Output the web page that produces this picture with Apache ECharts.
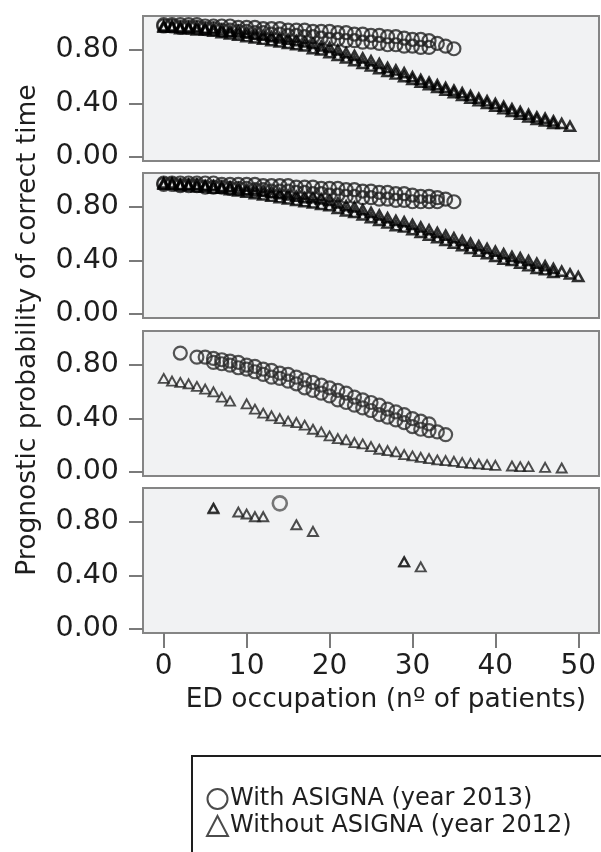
<!DOCTYPE html>
<html>
<head>
<meta charset="utf-8">
<script src="https://cdn.jsdelivr.net/npm/echarts@6/dist/echarts.min.js"></script>
<style>
  html, body { margin: 0; padding: 0; background: #fff; }
  #chart { width: 601px; height: 852px; }
</style>
</head>
<body>
<div id="chart"></div>
<script>
// tick labels
const xTicks = [0, 10, 20, 30, 40, 50];
const yTicks = [0, 0.4, 0.8];

// panel 1 (values indexed by ED occupation, starting at 0)
const p1CircleUpper = [0.99, 0.99, 0.99, 0.99, 0.99, 0.98, 0.98, 0.98, 0.98, 0.97, 0.97, 0.97, 0.96, 0.96, 0.96, 0.95, 0.95, 0.95, 0.94, 0.94, 0.94, 0.93, 0.93, 0.92, 0.92, 0.91, 0.91, 0.90, 0.90, 0.89, 0.88, 0.88, 0.87, 0.85, 0.83, 0.81];
const p1CircleLower = [0.98, 0.98, 0.97, 0.97, 0.97, 0.96, 0.96, 0.95, 0.95, 0.94, 0.94, 0.93, 0.93, 0.92, 0.92, 0.91, 0.91, 0.90, 0.90, 0.89, 0.88, 0.88, 0.87, 0.87, 0.86, 0.86, 0.85, 0.84, 0.84, 0.83, 0.83, 0.82, 0.82];
const p1TriUpper = [0.98, 0.98, 0.97, 0.97, 0.97, 0.96, 0.96, 0.95, 0.94, 0.94, 0.93, 0.92, 0.91, 0.90, 0.89, 0.88, 0.87, 0.86, 0.85, 0.83, 0.82, 0.80, 0.78, 0.76, 0.74, 0.72, 0.70, 0.67, 0.65, 0.63, 0.60, 0.58, 0.56, 0.54, 0.52, 0.50, 0.48, 0.46, 0.44, 0.42, 0.40, 0.38, 0.36, 0.34, 0.32, 0.30, 0.29, 0.27, 0.25, 0.23];
const p1TriLower = [0.97, 0.97, 0.96, 0.96, 0.95, 0.95, 0.94, 0.93, 0.92, 0.91, 0.90, 0.89, 0.88, 0.87, 0.86, 0.85, 0.84, 0.83, 0.81, 0.80, 0.78, 0.76, 0.74, 0.72, 0.70, 0.68, 0.66, 0.64, 0.62, 0.60, 0.58, 0.56, 0.54, 0.52, 0.50, 0.48, 0.46, 0.44, 0.42, 0.40, 0.38, 0.36, 0.34, 0.32, 0.30, 0.28, 0.27, 0.25];

// panel 2
const p2CircleUpper = [0.98, 0.98, 0.98, 0.98, 0.98, 0.98, 0.98, 0.97, 0.97, 0.97, 0.97, 0.97, 0.96, 0.96, 0.96, 0.96, 0.95, 0.95, 0.95, 0.94, 0.94, 0.94, 0.93, 0.93, 0.92, 0.92, 0.91, 0.91, 0.90, 0.90, 0.89, 0.88, 0.88, 0.87, 0.86, 0.84];
const p2CircleLower = [0.97, 0.97, 0.96, 0.96, 0.96, 0.95, 0.95, 0.95, 0.94, 0.94, 0.94, 0.93, 0.93, 0.92, 0.92, 0.92, 0.91, 0.91, 0.90, 0.90, 0.89, 0.89, 0.88, 0.88, 0.87, 0.87, 0.86, 0.86, 0.85, 0.85, 0.84, 0.84, 0.84, 0.84];
const p2TriUpper = [0.98, 0.98, 0.97, 0.97, 0.97, 0.96, 0.96, 0.95, 0.95, 0.94, 0.93, 0.93, 0.92, 0.91, 0.90, 0.89, 0.88, 0.87, 0.87, 0.86, 0.85, 0.83, 0.81, 0.80, 0.78, 0.76, 0.74, 0.72, 0.70, 0.69, 0.67, 0.65, 0.63, 0.61, 0.59, 0.57, 0.55, 0.53, 0.51, 0.49, 0.47, 0.45, 0.43, 0.42, 0.40, 0.38, 0.36, 0.34, 0.32, 0.30, 0.28];
const p2TriLower = [0.97, 0.97, 0.96, 0.96, 0.95, 0.95, 0.94, 0.94, 0.93, 0.92, 0.91, 0.90, 0.89, 0.88, 0.87, 0.86, 0.85, 0.84, 0.83, 0.82, 0.81, 0.79, 0.77, 0.76, 0.74, 0.72, 0.70, 0.68, 0.66, 0.65, 0.63, 0.61, 0.59, 0.57, 0.55, 0.53, 0.51, 0.49, 0.47, 0.45, 0.43, 0.41, 0.40, 0.38, 0.36, 0.34, 0.33, 0.31];

// panel 3 ([occupation, probability])
const p3Circles = [[2, 0.89], [4, 0.86], [34, 0.28],
  [5, 0.86], [6, 0.85], [7, 0.84], [8, 0.83], [9, 0.82], [10, 0.80], [11, 0.79], [12, 0.77], [13, 0.76], [14, 0.74], [15, 0.73], [16, 0.71], [17, 0.69], [18, 0.67], [19, 0.65], [20, 0.63], [21, 0.61], [22, 0.59], [23, 0.56], [24, 0.54], [25, 0.52], [26, 0.50], [27, 0.47], [28, 0.45], [29, 0.43], [30, 0.40], [31, 0.38], [32, 0.36],
  [6, 0.82], [7, 0.81], [8, 0.80], [9, 0.78], [10, 0.77], [11, 0.75], [12, 0.73], [13, 0.71], [14, 0.70], [15, 0.68], [16, 0.66], [17, 0.63], [18, 0.61], [19, 0.59], [20, 0.57], [21, 0.54], [22, 0.52], [23, 0.50], [24, 0.48], [25, 0.46], [26, 0.43], [27, 0.41], [28, 0.39], [29, 0.37], [30, 0.34], [31, 0.32], [32, 0.31], [33, 0.30]];
const p3Triangles = [[0, 0.70], [1, 0.68], [2, 0.67], [3, 0.66], [4, 0.64], [5, 0.62], [6, 0.60], [7, 0.56], [8, 0.53],
  [10, 0.51], [11, 0.47], [12, 0.44], [13, 0.42], [14, 0.40], [15, 0.38], [16, 0.37], [17, 0.35], [18, 0.32], [19, 0.30], [20, 0.27],
  [21, 0.25], [22, 0.24], [23, 0.22], [24, 0.21], [25, 0.19], [26, 0.17], [27, 0.16], [28, 0.15], [29, 0.13], [30, 0.12],
  [31, 0.11], [32, 0.10], [33, 0.09], [34, 0.085], [35, 0.08], [36, 0.07], [37, 0.065], [38, 0.06], [39, 0.055], [40, 0.05],
  [42, 0.045], [43, 0.04], [44, 0.04], [46, 0.035], [48, 0.03]];

// panel 4
const p4Circles = [[14, 0.94]];
const p4Triangles = [[6, 0.90], [6, 0.905], [9, 0.875], [10, 0.86], [11, 0.84], [12, 0.84], [16, 0.78], [18, 0.73], [29, 0.50], [29, 0.505], [31, 0.465]];

const withName = 'With ASIGNA (year 2013)';
const withoutName = 'Without ASIGNA (year 2012)';

const font = 'DejaVu Sans';
const panelTops = [16, 173, 331, 488];

const byIndex = arr => arr.map((v, i) => [i, v]);

// marker look per panel: the two upper panels are very dense and print almost black
const panels = [
  {
    circles: byIndex(p1CircleUpper).concat(byIndex(p1CircleLower)),
    triangles: byIndex(p1TriUpper).concat(byIndex(p1TriLower)),
    circle: { borderColor: '#222', borderWidth: 2.2 }, circleSize: 13,
    tri: { borderColor: '#000', borderWidth: 2.6 }
  },
  {
    circles: byIndex(p2CircleUpper).concat(byIndex(p2CircleLower)),
    triangles: byIndex(p2TriUpper).concat(byIndex(p2TriLower)),
    circle: { borderColor: '#222', borderWidth: 2.2 }, circleSize: 13,
    tri: { borderColor: '#000', borderWidth: 2.6 }
  },
  {
    circles: p3Circles, triangles: p3Triangles,
    circle: { borderColor: '#2a2a2a', borderWidth: 2.2 }, circleSize: 13,
    tri: { borderColor: '#222', borderWidth: 1.9 }
  },
  {
    circles: p4Circles, triangles: p4Triangles,
    circle: { borderColor: '#555', borderWidth: 2.6 }, circleSize: 14,
    tri: { borderColor: '#222', borderWidth: 2 }
  }
];

const grid = panelTops.map(top => ({
  left: 143,
  width: 456,
  top: top,
  height: 145,
  show: true,
  backgroundColor: '#f1f2f3',
  borderColor: '#858585',
  borderWidth: 2
}));

const xAxis = panelTops.map((t, i) => {
  const last = i === panelTops.length - 1;
  return {
    type: 'value',
    gridIndex: i,
    min: -2.5,
    max: 52.5,
    splitLine: { show: false },
    axisLine: { show: false, onZero: false },
    axisTick: {
      show: last,
      customValues: xTicks,
      length: 15,
      lineStyle: { color: '#7a7a7a', width: 2 }
    },
    axisLabel: {
      show: last,
      customValues: xTicks,
      margin: 20,
      fontFamily: font,
      fontSize: 28,
      color: '#1e1e1e'
    },
    name: last ? 'ED occupation (nº of patients)' : '',
    nameLocation: 'middle',
    nameGap: 54,
    nameTextStyle: { fontFamily: font, fontSize: 26.5, color: '#1e1e1e', padding: [0, 0, 0, 30] }
  };
});

const yAxis = panelTops.map((t, i) => ({
  type: 'value',
  gridIndex: i,
  min: -0.03,
  max: 1.055,
  splitLine: { show: false },
  axisLine: { show: false, onZero: false },
  axisTick: {
    show: true,
    customValues: yTicks,
    length: 14,
    lineStyle: { color: '#7a7a7a', width: 2 }
  },
  axisLabel: {
    customValues: yTicks,
    margin: 24,
    fontFamily: font,
    fontSize: 28.5,
    color: '#1e1e1e',
    formatter: v => v.toFixed(2)
  }
}));

const series = [];
panels.forEach((p, i) => {
  series.push({
    name: withName,
    type: 'scatter',
    xAxisIndex: i,
    yAxisIndex: i,
    symbol: 'circle',
    symbolSize: p.circleSize,
    itemStyle: Object.assign({ color: 'transparent' }, p.circle),
    data: p.circles
  });
  series.push({
    name: withoutName,
    type: 'scatter',
    xAxisIndex: i,
    yAxisIndex: i,
    symbol: 'triangle',
    symbolSize: [10, 9],
    itemStyle: Object.assign({ color: 'transparent' }, p.tri),
    data: p.triangles
  });
});

const chart = echarts.init(document.getElementById('chart'));
chart.setOption({
  animation: false,
  backgroundColor: '#fff',
  grid: grid,
  xAxis: xAxis,
  yAxis: yAxis,
  legend: {
    orient: 'vertical',
    left: 201,
    top: 782,
    itemWidth: 21,
    itemHeight: 20,
    itemGap: 3,
    selectedMode: false,
    textStyle: { fontFamily: font, fontSize: 24, color: '#1e1e1e', padding: [0, 0, 0, -3] },
    data: [
      { name: withName, icon: 'circle', itemStyle: { color: 'transparent', borderColor: '#1e1e1e', borderWidth: 2 } },
      { name: withoutName, icon: 'triangle', itemStyle: { color: 'transparent', borderColor: '#1e1e1e', borderWidth: 2 } }
    ]
  },
  graphic: [
    {
      type: 'text',
      x: 28,
      y: 330,
      rotation: Math.PI / 2,
      style: {
        text: 'Prognostic probability of correct time',
        fontFamily: font,
        fontSize: 26.5,
        fill: '#1e1e1e',
        align: 'center',
        verticalAlign: 'middle'
      }
    },
    {
      type: 'rect',
      shape: { x: 192, y: 756, width: 440, height: 130 },
      style: { fill: 'none', stroke: '#1e1e1e', lineWidth: 2 }
    }
  ],
  series: series
});
</script>
</body>
</html>
